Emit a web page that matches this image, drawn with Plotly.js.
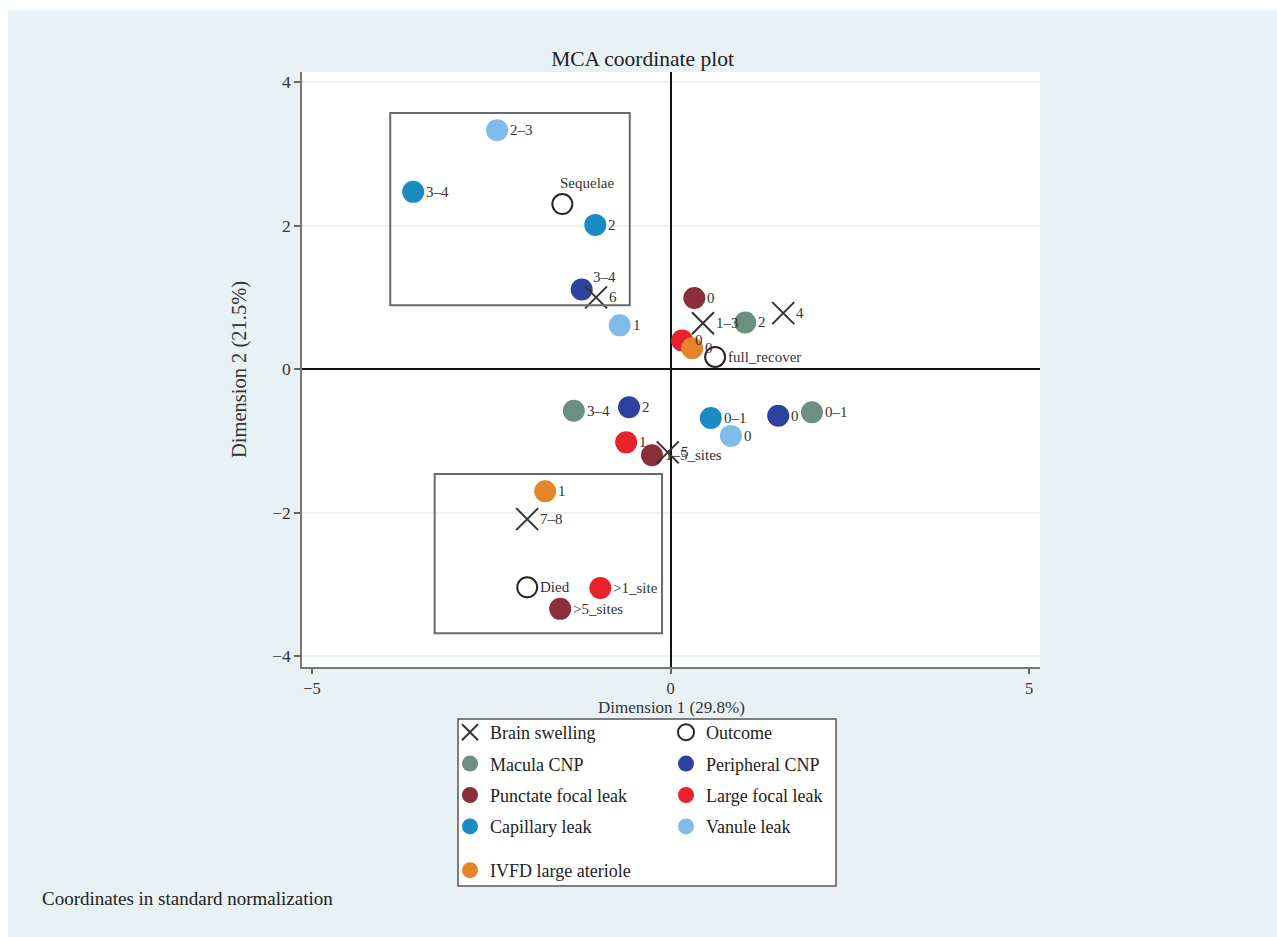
<!DOCTYPE html>
<html>
<head>
<meta charset="utf-8">
<script src="https://cdn.plot.ly/plotly-3.0.1.min.js"></script>
<style>
  body { margin: 0; background: #ffffff; }
  #chart { position: absolute; left: 8px; top: 10px; width: 1269px; height: 927px; }
</style>
</head>
<body>
<div id="chart"></div>
<script>
// ---- Data ----
const brainLabels = ['6', '1–3', '4', '7–8', '5'];
const brainX = [-1.04, 0.45, 1.57, -2.00, -0.04];
const brainY = [1.00, 0.64, 0.78, -2.09, -1.16];

const outcomeLabels = ['Sequelae', 'full_recover', 'Died'];
const outcomeX = [-1.51, 0.62, -2.00];
const outcomeY = [2.30, 0.17, -3.04];

const maculaLabels = ['2', '3–4', '0–1'];
const maculaX = [1.04, -1.35, 1.97];
const maculaY = [0.65, -0.58, -0.60];

const periphLabels = ['3–4', '2', '0'];
const periphX = [-1.24, -0.58, 1.50];
const periphY = [1.11, -0.53, -0.65];

const punctLabels = ['0', '1–5_sites', '>5_sites'];
const punctX = [0.33, -0.26, -1.54];
const punctY = [0.99, -1.20, -3.34];

const largeLabels = ['0', '1', '>1_site'];
const largeX = [0.16, -0.62, -0.98];
const largeY = [0.40, -1.02, -3.05];

const capLabels = ['3–4', '2', '0–1'];
const capX = [-3.59, -1.05, 0.56];
const capY = [2.47, 2.01, -0.68];

const vanLabels = ['2–3', '1', '0'];
const vanX = [-2.42, -0.71, 0.84];
const vanY = [3.33, 0.61, -0.93];

const ivfdLabels = ['0', '1'];
const ivfdX = [0.30, -1.75];
const ivfdY = [0.29, -1.70];

const xTicks = [-5, 0, 5];
const yTicks = [-4, -2, 0, 2, 4];

// highlighted regions (annotation boxes)
const boxTopLeft = {x0: -3.91, x1: -0.57, y0: 0.89, y1: 3.57};
const boxBottom = {x0: -3.29, x1: -0.12, y0: -3.68, y1: -1.46};

// ---- Style ----
const FONT = 'Liberation Serif, Times New Roman, serif';
// label placement overrides (pixel offsets), keyed by series name + label
const labelStyle = {
  'Outcome|Sequelae': {xanchor: 'center', xshift: 25, yshift: 21},
  'Peripheral CNP|3–4': {xanchor: 'left', xshift: 9, yshift: 12}
};

const traces = [];
const labelAnns = [];

function addSeries(name, xs, ys, labels, marker, legend, rank, group) {
  traces.push({
    type: 'scatter', mode: 'markers', name: name,
    x: xs, y: ys, text: labels,
    marker: marker, cliponaxis: false,
    legend: legend, legendrank: rank, legendgroup: group,
    hoverinfo: 'x+y+text'
  });
  labels.forEach((l, i) => {
    const st = labelStyle[name + '|' + l] || {xanchor: 'left', xshift: 11, yshift: 0};
    labelAnns.push({
      x: xs[i], y: ys[i], xref: 'x', yref: 'y', text: l, showarrow: false,
      xanchor: st.xanchor, yanchor: 'middle', xshift: st.xshift, yshift: st.yshift,
      font: {family: FONT, size: 15, color: '#333'}
    });
  });
}

const dot = c => ({symbol: 'circle', size: 22, color: c, line: {width: 0}});

addSeries('Macula CNP', maculaX, maculaY, maculaLabels, dot('#6B8F80'), 'legend', 2, 'g2');
addSeries('Peripheral CNP', periphX, periphY, periphLabels, dot('#2F419E'), 'legend2', 2, 'h2');
addSeries('Punctate focal leak', punctX, punctY, punctLabels, dot('#8A2E39'), 'legend', 3, 'g3');
addSeries('Large focal leak', largeX, largeY, largeLabels, dot('#E8222B'), 'legend2', 3, 'h3');
addSeries('Capillary leak', capX, capY, capLabels, dot('#1B8BC3'), 'legend', 4, 'g4');
addSeries('Vanule leak', vanX, vanY, vanLabels, dot('#80BCEA'), 'legend2', 4, 'h4');
addSeries('IVFD large ateriole', ivfdX, ivfdY, ivfdLabels, dot('#E5842B'), 'legend3', 5, 'g5');
addSeries('Outcome', outcomeX, outcomeY, outcomeLabels,
  {symbol: 'circle-open', size: 20, color: '#262626', line: {width: 2, color: '#262626'}}, 'legend2', 1, 'h1');
addSeries('Brain swelling', brainX, brainY, brainLabels,
  {symbol: 'x-thin-open', size: 22, color: '#333', line: {width: 2, color: '#333'}}, 'legend', 1, 'g1');

// plot area in page px: x 302..1040, y 72..667 (div offset 8,10)
const plotL = 302, plotR = 1040, plotT = 72, plotB = 667;
const px2x = p => (p - plotL) / (plotR - plotL);
const py2y = p => (plotB - p) / (plotB - plotT);

const legendCommon = {
  orientation: 'v', xanchor: 'left', yanchor: 'top',
  bgcolor: 'rgba(0,0,0,0)', borderwidth: 0,
  font: {family: FONT, size: 18, color: '#222'},
  tracegroupgap: 5, traceorder: 'grouped', itemsizing: 'trace'
};

const boxShape = (b) => ({
  type: 'rect', xref: 'x', yref: 'y', x0: b.x0, x1: b.x1, y0: b.y0, y1: b.y1,
  line: {color: '#6a6a6a', width: 2}, fillcolor: 'rgba(0,0,0,0)', layer: 'above'
});

const layout = {
  width: 1269, height: 927,
  paper_bgcolor: '#E8F1F3', plot_bgcolor: '#ffffff',
  margin: {l: plotL - 8, r: 1269 - (plotR - 8), t: plotT - 10, b: 927 - (plotB - 10)},
  font: {family: FONT, color: '#333'},
  title: {text: 'MCA coordinate plot', x: 0.5, xanchor: 'center', y: 1 - 48 / 927, yanchor: 'middle',
          xref: 'container', yref: 'container', font: {family: FONT, size: 21.5, color: '#222'}},
  xaxis: {
    range: [-5.14, 5.15], tickvals: xTicks, ticktext: xTicks.map(v => v < 0 ? '−' + Math.abs(v) : String(v)),
    ticks: 'outside', ticklen: 5, tickwidth: 1.5, tickcolor: '#666',
    showline: true, linecolor: '#777', linewidth: 1.5, showgrid: false,
    zeroline: true, zerolinecolor: '#111', zerolinewidth: 2,
    tickfont: {family: FONT, size: 16.5, color: '#333'}
  },
  yaxis: {
    range: [-4.15, 4.14], tickvals: yTicks, ticktext: yTicks.map(v => v < 0 ? '−' + Math.abs(v) : String(v)),
    ticks: 'outside', ticklen: 6, tickwidth: 1.5, tickcolor: '#666',
    showline: true, linecolor: '#777', linewidth: 1.5,
    showgrid: true, gridcolor: '#EAF2F4', gridwidth: 1.5,
    zeroline: true, zerolinecolor: '#111', zerolinewidth: 2,
    tickfont: {family: FONT, size: 17.5, color: '#333'},
    title: {text: 'Dimension 2 (21.5%)', font: {family: FONT, size: 20.5, color: '#333'}, standoff: 20}
  },
  showlegend: true,
  legend: Object.assign({}, legendCommon, {x: px2x(450), y: py2y(714)}),
  legend2: Object.assign({}, legendCommon, {x: px2x(666), y: py2y(714)}),
  legend3: Object.assign({}, legendCommon, {x: px2x(450), y: py2y(852)}),
  shapes: [
    boxShape(boxTopLeft),
    boxShape(boxBottom),
    {type: 'rect', xref: 'paper', yref: 'paper', x0: px2x(458), x1: px2x(836), y0: py2y(886), y1: py2y(719),
     line: {color: '#555', width: 1.5}, fillcolor: '#ffffff', layer: 'below'}
  ],
  annotations: labelAnns.concat([
    {text: 'Dimension 1 (29.8%)', xref: 'paper', yref: 'paper',
     x: 0.5, y: py2y(707), xanchor: 'center', yanchor: 'middle', showarrow: false,
     font: {family: FONT, size: 17, color: '#333'}},
    {text: 'Coordinates in standard normalization', xref: 'paper', yref: 'paper',
     x: px2x(40), y: py2y(898), xanchor: 'left', yanchor: 'middle', showarrow: false,
     font: {family: FONT, size: 19, color: '#222'}}
  ])
};

Plotly.newPlot('chart', traces, layout, {displayModeBar: false, responsive: false});
</script>
</body>
</html>
